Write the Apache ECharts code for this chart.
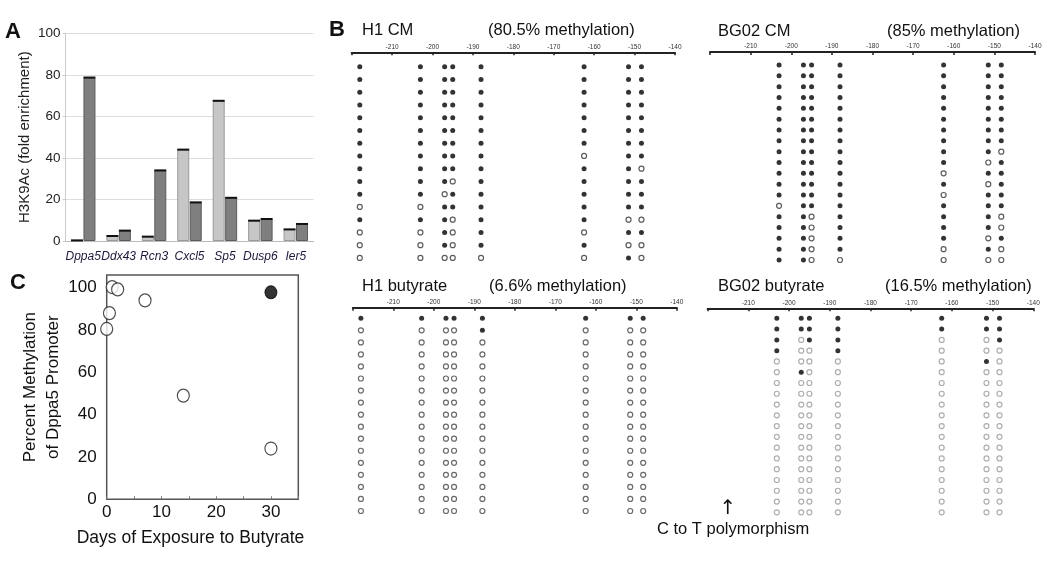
<!DOCTYPE html>
<html><head><meta charset="utf-8">
<script src="https://cdn.jsdelivr.net/npm/echarts@6/dist/echarts.min.js"></script>
<style>html,body{margin:0;padding:0;background:#fff}#c{width:1050px;height:563px}</style>
</head><body><div id="c"></div>
<script>
// ---- Panel A data ----
const genes = ['Dppa5','Ddx43','Rcn3','Cxcl5','Sp5','Dusp6','Ier5'];
const lightVals = [0.3, 2.4, 2.1, 44.0, 67.5, 9.8, 5.6];
const darkVals = [78.7, 5.0, 34.0, 18.6, 20.8, 10.6, 8.2];

// ---- Panel C data ----
const openDays = [0, 0.5, 1, 2, 7, 14, 30];
const openMeth = [80.5, 88, 100.3, 99.2, 94, 49, 24];
const filledDays = [30];
const filledMeth = [97.8];

// ---- Panel B data (1 = methylated, 0 = unmethylated) ----
const h1Pos = [-218, -203, -197, -195, -188, -162.5, -151.5, -148.3];
const bg02Pos = [-203, -197, -195, -188, -162.5, -151.5, -148.3];
const h1CM = ['11111111','11111111','11111111','11111111','11111111','11111111','11111111',
  '11111011','11111110','11101111','11011111','00111111','11101100','00101011','00101100','00000010'];
const bg02CM = ['1111111','1111111','1111111','1111111','1111111','1111111','1111111','1111111',
  '1111110','1111101','1111011','1111101','1111011','0111111','1101110','1101110','1101101','1101010','1100000'];
const h1But = ['11111111','00001000','00000000','00000000','00000000','00000000','00000000','00000000',
  '00000000','00000000','00000000','00000000','00000000','00000000','00000000','00000000','00000000'];
const bg02But = ['1111111','1111111','1011001','1001000','0000010','0100000','0000000','0000000','0000000',
  '0000000','0000000','0000000','0000000','0000000','0000000','0000000','0000000','0000000','0000000'];

function pts(rows, pos, flag) {
  const out = [];
  rows.forEach((r, i) => { for (let j = 0; j < r.length; j++) if (r[j] === flag) out.push([pos[j], i]); });
  return out;
}

const chart = echarts.init(document.getElementById('c'), null, {renderer: 'canvas'});
const FF = 'Liberation Sans, Arial, sans-serif';

const bGrids = [
  {left: 351.7, top: 52.3, width: 323.3, height: 212},
  {left: 710, top: 52, width: 325, height: 213.4},
  {left: 352.8, top: 307.7, width: 324, height: 209.3},
  {left: 707.6, top: 308.3, width: 325.7, height: 209.4}
];
const bYRange = [[-1.13, 15.5], [-1.2, 18.5], [-0.88, 16.5], [-0.93, 18.5]];
const bData = [[h1CM, h1Pos, '#333'], [bg02CM, bg02Pos, '#333'], [h1But, h1Pos, '#444'], [bg02But, bg02Pos, '#9a9a9a']];

const grids = [
  {left: 65.5, top: 33.3, width: 248, height: 207.7},
  {left: 106.7, top: 275, width: 191.6, height: 224.3, show: true, borderColor: '#555', borderWidth: 1.5, backgroundColor: 'rgba(0,0,0,0)'}
].concat(bGrids);

const xAxes = [
  {type: 'category', gridIndex: 0, data: genes, axisTick: {show: false},
   axisLine: {lineStyle: {color: '#bbb'}},
   axisLabel: {fontStyle: 'italic', fontSize: 12, color: '#1a1a3a', margin: 10, fontFamily: FF, interval: 0}},
  {type: 'value', gridIndex: 1, min: 0, max: 35, interval: 5, axisLine: {show: false},
   axisTick: {show: true, inside: true, length: 3, lineStyle: {color: '#777'}},
   splitLine: {show: false},
   axisLabel: {fontSize: 17, color: '#111', margin: 5, fontFamily: FF,
     formatter: v => (v % 10 === 0 && v <= 30) ? String(v) : ''},
   name: 'Days of Exposure to Butyrate', nameLocation: 'middle', nameGap: 30,
   nameTextStyle: {fontSize: 17.5, color: '#111', fontFamily: FF, padding: [0, 24, 0, 0]}}
];
bGrids.forEach((g, i) => xAxes.push({
  type: 'value', gridIndex: i + 2, position: 'top', min: -220, max: -140, interval: 10,
  axisLine: {onZero: false, lineStyle: {color: '#222', width: 2}},
  axisTick: {inside: true, length: 3, lineStyle: {color: '#222', width: 1.5}},
  splitLine: {show: false},
  axisLabel: {fontSize: 6.5, color: '#333', margin: 2, fontFamily: FF, formatter: v => v === -220 ? '' : String(v)}
}));

const yAxes = [
  {type: 'value', gridIndex: 0, min: 0, max: 100, interval: 20,
   axisLine: {show: true, lineStyle: {color: '#ccc'}},
   axisTick: {show: true, length: 3, lineStyle: {color: '#ccc'}},
   splitLine: {lineStyle: {color: '#ddd'}},
   axisLabel: {fontSize: 13.5, color: '#222', margin: 5, fontFamily: FF},
   name: 'H3K9Ac (fold enrichment)', nameLocation: 'middle', nameGap: 33,
   nameTextStyle: {fontSize: 15, color: '#222', fontFamily: FF}},
  {type: 'value', gridIndex: 1, min: 0, max: 106, interval: 20,
   axisLine: {show: false}, axisTick: {show: false}, splitLine: {show: false},
   axisLabel: {fontSize: 17, color: '#111', margin: 10, fontFamily: FF,
     formatter: v => (v % 20 === 0 && v <= 100) ? String(v) : ''},
   name: 'Percent Methylation\nof Dppa5 Promoter', nameLocation: 'middle', nameGap: 36,
   nameTextStyle: {fontSize: 17, color: '#111', fontFamily: FF, lineHeight: 23}}
];
bYRange.forEach((r, i) => yAxes.push({type: 'value', gridIndex: i + 2, inverse: true, min: r[0], max: r[1], show: false}));

const series = [
  {type: 'bar', xAxisIndex: 0, yAxisIndex: 0, data: lightVals, barWidth: 12, barGap: '4%',
   itemStyle: {color: '#c6c6c6', borderColor: '#9a9a9a', borderWidth: 1}},
  {type: 'bar', xAxisIndex: 0, yAxisIndex: 0, data: darkVals, barWidth: 12, barGap: '4%',
   itemStyle: {color: '#7f7f7f', borderColor: '#5c5c5c', borderWidth: 1}},
  {type: 'pictorialBar', xAxisIndex: 0, yAxisIndex: 0, data: lightVals, barWidth: 12, barGap: '4%',
   symbol: 'rect', symbolSize: [12, 2], symbolPosition: 'end', symbolOffset: [0, '-50%'], z: 5, itemStyle: {color: '#111'}},
  {type: 'pictorialBar', xAxisIndex: 0, yAxisIndex: 0, data: darkVals, barWidth: 12, barGap: '4%',
   symbol: 'rect', symbolSize: [12, 2], symbolPosition: 'end', symbolOffset: [0, '-50%'], z: 5, itemStyle: {color: '#111'}},
  {type: 'scatter', xAxisIndex: 1, yAxisIndex: 1, data: openDays.map((d, i) => [d, openMeth[i]]),
   symbol: 'circle', symbolSize: [12, 13], itemStyle: {color: '#fff', borderColor: '#222', borderWidth: 1.2}},
  {type: 'scatter', xAxisIndex: 1, yAxisIndex: 1, data: filledDays.map((d, i) => [d, filledMeth[i]]),
   symbol: 'circle', symbolSize: [12, 13], itemStyle: {color: '#000', borderColor: '#000', borderWidth: 1}}
];
bData.forEach((b, i) => {
  series.push({type: 'scatter', xAxisIndex: i + 2, yAxisIndex: i + 2, data: pts(b[0], b[1], '1'),
    symbol: 'circle', symbolSize: 5, itemStyle: {color: '#000'}});
  series.push({type: 'scatter', xAxisIndex: i + 2, yAxisIndex: i + 2, data: pts(b[0], b[1], '0'),
    symbol: 'circle', symbolSize: 5, itemStyle: {color: '#fff', borderColor: b[2], borderWidth: 1.2}});
});

function txt(x, y, s, font, align) {
  return {type: 'text', x: x, y: y, silent: true,
    style: {text: s, font: font, fill: '#111', textAlign: align || 'left', textVerticalAlign: 'middle', align: align || 'left', verticalAlign: 'middle'}};
}
const T = '16.5px ' + FF;
const graphics = [
  txt(5, 32, 'A', 'bold 22px ' + FF),
  txt(329, 30, 'B', 'bold 22px ' + FF),
  txt(10, 283, 'C', 'bold 22px ' + FF),
  txt(362, 30, 'H1 CM', T), txt(488, 30, '(80.5% methylation)', T),
  txt(718, 31, 'BG02 CM', T), txt(887, 31, '(85% methylation)', T),
  txt(362, 286, 'H1 butyrate', T), txt(489, 286, '(6.6% methylation)', T),
  txt(718, 286, 'BG02 butyrate', T), txt(885, 286, '(16.5% methylation)', T),
  txt(728, 509, '\u2191', '20px DejaVu Sans, ' + FF, 'center'),
  txt(657, 529, 'C to T polymorphism', '16.5px ' + FF)
];

chart.setOption({
  animation: false,
  backgroundColor: '#fff',
  textStyle: {fontFamily: FF},
  grid: grids, xAxis: xAxes, yAxis: yAxes, series: series,
  graphic: {elements: graphics}
});
</script></body></html>
